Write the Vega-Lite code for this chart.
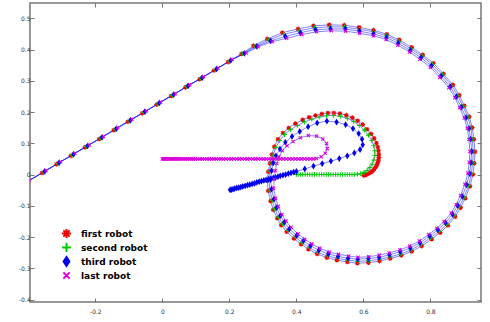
{"$schema":"https://vega.github.io/schema/vega-lite/v6.json","width":451,"height":299,"autosize":{"type":"none"},"padding":{"left":30,"top":3,"right":9,"bottom":20},
"config":{"view":{"stroke":"#777777","strokeWidth":1.5},"axis":{"grid":false,"domain":false,"tickColor":"#777777","tickWidth":1,"tickSize":-4,"labelFont":"DejaVu Sans","labelFontSize":6,"labelColor":"#333333","title":null}},
"data":{"values":[
{"r":1,"x":-0.41,"y":-0.027},{"r":1,"x":-0.359,"y":0.005},{"r":1,"x":-0.316,"y":0.033},{"r":1,"x":-0.273,"y":0.060},{"r":1,"x":-0.231,"y":0.087},{"r":1,"x":-0.188,"y":0.114},{"r":1,"x":-0.145,"y":0.142},{"r":1,"x":-0.103,"y":0.169},{"r":1,"x":-0.060,"y":0.196},{"r":1,"x":-0.017,"y":0.224},{"r":1,"x":0.026,"y":0.251},{"r":1,"x":0.069,"y":0.279},{"r":1,"x":0.111,"y":0.305},{"r":1,"x":0.154,"y":0.333},{"r":1,"x":0.196,"y":0.360},{"r":1,"x":0.236,"y":0.386},{"r":1,"x":0.272,"y":0.412},{"r":1,"x":0.313,"y":0.434},{"r":1,"x":0.358,"y":0.454},{"r":1,"x":0.405,"y":0.466},{"r":1,"x":0.451,"y":0.476},{"r":1,"x":0.498,"y":0.479},{"r":1,"x":0.543,"y":0.478},{"r":1,"x":0.587,"y":0.471},{"r":1,"x":0.630,"y":0.462},{"r":1,"x":0.670,"y":0.449},{"r":1,"x":0.707,"y":0.431},{"r":1,"x":0.744,"y":0.407},{"r":1,"x":0.777,"y":0.383},{"r":1,"x":0.809,"y":0.356},{"r":1,"x":0.839,"y":0.322},{"r":1,"x":0.867,"y":0.287},{"r":1,"x":0.886,"y":0.254},{"r":1,"x":0.901,"y":0.220},{"r":1,"x":0.916,"y":0.185},{"r":1,"x":0.925,"y":0.150},{"r":1,"x":0.930,"y":0.113},{"r":1,"x":0.933,"y":0.073},{"r":1,"x":0.931,"y":0.036},{"r":1,"x":0.927,"y":0.000},{"r":1,"x":0.918,"y":-0.038},{"r":1,"x":0.904,"y":-0.076},{"r":1,"x":0.890,"y":-0.106},{"r":1,"x":0.874,"y":-0.135},{"r":1,"x":0.852,"y":-0.163},{"r":1,"x":0.829,"y":-0.186},{"r":1,"x":0.804,"y":-0.207},{"r":1,"x":0.774,"y":-0.229},{"r":1,"x":0.744,"y":-0.246},{"r":1,"x":0.713,"y":-0.259},{"r":1,"x":0.680,"y":-0.269},{"r":1,"x":0.648,"y":-0.277},{"r":1,"x":0.615,"y":-0.282},{"r":1,"x":0.582,"y":-0.284},{"r":1,"x":0.552,"y":-0.280},{"r":1,"x":0.521,"y":-0.274},{"r":1,"x":0.491,"y":-0.266},{"r":1,"x":0.462,"y":-0.254},{"r":1,"x":0.436,"y":-0.239},{"r":1,"x":0.414,"y":-0.223},{"r":1,"x":0.393,"y":-0.205},{"r":1,"x":0.371,"y":-0.183},{"r":1,"x":0.355,"y":-0.162},{"r":1,"x":0.343,"y":-0.140},{"r":1,"x":0.331,"y":-0.113},{"r":1,"x":0.323,"y":-0.085},{"r":1,"x":0.316,"y":-0.052},{"r":1,"x":0.313,"y":-0.020},{"r":1,"x":0.316,"y":0.009},{"r":1,"x":0.321,"y":0.036},{"r":1,"x":0.327,"y":0.064},{"r":1,"x":0.334,"y":0.089},{"r":1,"x":0.345,"y":0.113},{"r":1,"x":0.360,"y":0.133},{"r":1,"x":0.377,"y":0.149},{"r":1,"x":0.397,"y":0.163},{"r":1,"x":0.419,"y":0.175},{"r":1,"x":0.438,"y":0.183},{"r":1,"x":0.457,"y":0.189},{"r":1,"x":0.476,"y":0.194},{"r":1,"x":0.494,"y":0.197},{"r":1,"x":0.512,"y":0.197},{"r":1,"x":0.530,"y":0.195},{"r":1,"x":0.549,"y":0.190},{"r":1,"x":0.567,"y":0.182},{"r":1,"x":0.583,"y":0.172},{"r":1,"x":0.598,"y":0.160},{"r":1,"x":0.611,"y":0.145},{"r":1,"x":0.623,"y":0.130},{"r":1,"x":0.632,"y":0.116},{"r":1,"x":0.639,"y":0.101},{"r":1,"x":0.643,"y":0.088},{"r":1,"x":0.645,"y":0.076},{"r":1,"x":0.646,"y":0.065},{"r":1,"x":0.646,"y":0.055},{"r":1,"x":0.645,"y":0.046},{"r":1,"x":0.643,"y":0.038},{"r":1,"x":0.640,"y":0.030},{"r":1,"x":0.636,"y":0.023},{"r":1,"x":0.632,"y":0.017},{"r":1,"x":0.627,"y":0.011},{"r":1,"x":0.622,"y":0.007},{"r":1,"x":0.616,"y":0.003},{"r":1,"x":0.610,"y":0.000},{"r":1,"x":0.605,"y":-0.002},{"r":1,"x":0.601,"y":-0.003},
{"r":2,"x":-0.406,"y":-0.025},{"r":2,"x":-0.355,"y":0.008},{"r":2,"x":-0.312,"y":0.035},{"r":2,"x":-0.269,"y":0.063},{"r":2,"x":-0.227,"y":0.090},{"r":2,"x":-0.184,"y":0.117},{"r":2,"x":-0.141,"y":0.145},{"r":2,"x":-0.099,"y":0.172},{"r":2,"x":-0.056,"y":0.199},{"r":2,"x":-0.013,"y":0.226},{"r":2,"x":0.030,"y":0.254},{"r":2,"x":0.073,"y":0.282},{"r":2,"x":0.115,"y":0.308},{"r":2,"x":0.158,"y":0.336},{"r":2,"x":0.200,"y":0.363},{"r":2,"x":0.240,"y":0.387},{"r":2,"x":0.277,"y":0.411},{"r":2,"x":0.318,"y":0.431},{"r":2,"x":0.362,"y":0.449},{"r":2,"x":0.408,"y":0.460},{"r":2,"x":0.454,"y":0.470},{"r":2,"x":0.500,"y":0.473},{"r":2,"x":0.544,"y":0.472},{"r":2,"x":0.588,"y":0.465},{"r":2,"x":0.630,"y":0.457},{"r":2,"x":0.669,"y":0.444},{"r":2,"x":0.706,"y":0.426},{"r":2,"x":0.742,"y":0.402},{"r":2,"x":0.775,"y":0.379},{"r":2,"x":0.806,"y":0.352},{"r":2,"x":0.836,"y":0.319},{"r":2,"x":0.863,"y":0.284},{"r":2,"x":0.882,"y":0.252},{"r":2,"x":0.897,"y":0.218},{"r":2,"x":0.912,"y":0.184},{"r":2,"x":0.921,"y":0.149},{"r":2,"x":0.925,"y":0.113},{"r":2,"x":0.928,"y":0.073},{"r":2,"x":0.926,"y":0.037},{"r":2,"x":0.922,"y":0.002},{"r":2,"x":0.914,"y":-0.036},{"r":2,"x":0.900,"y":-0.073},{"r":2,"x":0.886,"y":-0.103},{"r":2,"x":0.870,"y":-0.132},{"r":2,"x":0.849,"y":-0.159},{"r":2,"x":0.826,"y":-0.182},{"r":2,"x":0.801,"y":-0.202},{"r":2,"x":0.772,"y":-0.224},{"r":2,"x":0.742,"y":-0.241},{"r":2,"x":0.712,"y":-0.254},{"r":2,"x":0.679,"y":-0.264},{"r":2,"x":0.648,"y":-0.271},{"r":2,"x":0.615,"y":-0.276},{"r":2,"x":0.583,"y":-0.278},{"r":2,"x":0.553,"y":-0.274},{"r":2,"x":0.523,"y":-0.268},{"r":2,"x":0.493,"y":-0.261},{"r":2,"x":0.464,"y":-0.249},{"r":2,"x":0.439,"y":-0.234},{"r":2,"x":0.417,"y":-0.218},{"r":2,"x":0.397,"y":-0.200},{"r":2,"x":0.375,"y":-0.179},{"r":2,"x":0.359,"y":-0.158},{"r":2,"x":0.347,"y":-0.136},{"r":2,"x":0.335,"y":-0.110},{"r":2,"x":0.328,"y":-0.082},{"r":2,"x":0.321,"y":-0.050},{"r":2,"x":0.318,"y":-0.018},{"r":2,"x":0.320,"y":0.010},{"r":2,"x":0.325,"y":0.036},{"r":2,"x":0.331,"y":0.062},{"r":2,"x":0.339,"y":0.087},{"r":2,"x":0.350,"y":0.109},{"r":2,"x":0.365,"y":0.128},{"r":2,"x":0.383,"y":0.144},{"r":2,"x":0.403,"y":0.157},{"r":2,"x":0.424,"y":0.168},{"r":2,"x":0.446,"y":0.177},{"r":2,"x":0.468,"y":0.184},{"r":2,"x":0.490,"y":0.188},{"r":2,"x":0.511,"y":0.189},{"r":2,"x":0.532,"y":0.186},{"r":2,"x":0.552,"y":0.180},{"r":2,"x":0.571,"y":0.170},{"r":2,"x":0.588,"y":0.157},{"r":2,"x":0.603,"y":0.142},{"r":2,"x":0.615,"y":0.126},{"r":2,"x":0.625,"y":0.109},{"r":2,"x":0.631,"y":0.092},{"r":2,"x":0.634,"y":0.076},{"r":2,"x":0.634,"y":0.061},{"r":2,"x":0.631,"y":0.046},{"r":2,"x":0.626,"y":0.033},{"r":2,"x":0.619,"y":0.022},{"r":2,"x":0.611,"y":0.013},{"r":2,"x":0.602,"y":0.007},{"r":2,"x":0.592,"y":0.003},{"r":2,"x":0.582,"y":0.001},{"r":2,"x":0.573,"y":0.000},{"r":2,"x":0.566,"y":0.000},{"r":2,"x":0.559,"y":0.000},{"r":2,"x":0.552,"y":0.000},{"r":2,"x":0.545,"y":0.000},{"r":2,"x":0.538,"y":0.000},{"r":2,"x":0.531,"y":0.000},{"r":2,"x":0.524,"y":0.000},{"r":2,"x":0.517,"y":0.000},{"r":2,"x":0.510,"y":0.000},{"r":2,"x":0.503,"y":0.000},{"r":2,"x":0.496,"y":0.000},{"r":2,"x":0.489,"y":0.000},{"r":2,"x":0.482,"y":0.000},{"r":2,"x":0.475,"y":0.000},{"r":2,"x":0.468,"y":0.000},{"r":2,"x":0.461,"y":0.000},{"r":2,"x":0.454,"y":0.000},{"r":2,"x":0.447,"y":0.000},{"r":2,"x":0.440,"y":0.000},{"r":2,"x":0.433,"y":0.000},{"r":2,"x":0.426,"y":0.000},{"r":2,"x":0.419,"y":0.000},{"r":2,"x":0.412,"y":0.000},{"r":2,"x":0.405,"y":0.000},{"r":2,"x":0.400,"y":0.000},
{"r":3,"x":-0.402,"y":-0.022},{"r":3,"x":-0.351,"y":0.010},{"r":3,"x":-0.308,"y":0.038},{"r":3,"x":-0.265,"y":0.065},{"r":3,"x":-0.223,"y":0.092},{"r":3,"x":-0.180,"y":0.119},{"r":3,"x":-0.137,"y":0.147},{"r":3,"x":-0.095,"y":0.174},{"r":3,"x":-0.052,"y":0.201},{"r":3,"x":-0.009,"y":0.229},{"r":3,"x":0.034,"y":0.256},{"r":3,"x":0.077,"y":0.284},{"r":3,"x":0.119,"y":0.310},{"r":3,"x":0.162,"y":0.338},{"r":3,"x":0.204,"y":0.365},{"r":3,"x":0.245,"y":0.388},{"r":3,"x":0.282,"y":0.410},{"r":3,"x":0.323,"y":0.428},{"r":3,"x":0.367,"y":0.442},{"r":3,"x":0.412,"y":0.454},{"r":3,"x":0.457,"y":0.464},{"r":3,"x":0.502,"y":0.466},{"r":3,"x":0.546,"y":0.466},{"r":3,"x":0.588,"y":0.459},{"r":3,"x":0.630,"y":0.450},{"r":3,"x":0.669,"y":0.438},{"r":3,"x":0.704,"y":0.420},{"r":3,"x":0.740,"y":0.397},{"r":3,"x":0.772,"y":0.374},{"r":3,"x":0.803,"y":0.348},{"r":3,"x":0.832,"y":0.315},{"r":3,"x":0.859,"y":0.281},{"r":3,"x":0.877,"y":0.249},{"r":3,"x":0.892,"y":0.216},{"r":3,"x":0.906,"y":0.182},{"r":3,"x":0.915,"y":0.148},{"r":3,"x":0.920,"y":0.113},{"r":3,"x":0.923,"y":0.074},{"r":3,"x":0.921,"y":0.038},{"r":3,"x":0.917,"y":0.003},{"r":3,"x":0.908,"y":-0.033},{"r":3,"x":0.895,"y":-0.070},{"r":3,"x":0.881,"y":-0.099},{"r":3,"x":0.866,"y":-0.127},{"r":3,"x":0.845,"y":-0.154},{"r":3,"x":0.822,"y":-0.177},{"r":3,"x":0.798,"y":-0.197},{"r":3,"x":0.769,"y":-0.218},{"r":3,"x":0.740,"y":-0.235},{"r":3,"x":0.710,"y":-0.247},{"r":3,"x":0.678,"y":-0.257},{"r":3,"x":0.647,"y":-0.265},{"r":3,"x":0.615,"y":-0.269},{"r":3,"x":0.583,"y":-0.271},{"r":3,"x":0.554,"y":-0.268},{"r":3,"x":0.524,"y":-0.262},{"r":3,"x":0.495,"y":-0.254},{"r":3,"x":0.467,"y":-0.242},{"r":3,"x":0.442,"y":-0.228},{"r":3,"x":0.421,"y":-0.212},{"r":3,"x":0.401,"y":-0.195},{"r":3,"x":0.379,"y":-0.174},{"r":3,"x":0.364,"y":-0.153},{"r":3,"x":0.352,"y":-0.132},{"r":3,"x":0.341,"y":-0.106},{"r":3,"x":0.333,"y":-0.079},{"r":3,"x":0.326,"y":-0.047},{"r":3,"x":0.323,"y":-0.016},{"r":3,"x":0.326,"y":0.012},{"r":3,"x":0.331,"y":0.037},{"r":3,"x":0.339,"y":0.060},{"r":3,"x":0.351,"y":0.082},{"r":3,"x":0.367,"y":0.103},{"r":3,"x":0.387,"y":0.122},{"r":3,"x":0.410,"y":0.138},{"r":3,"x":0.435,"y":0.153},{"r":3,"x":0.462,"y":0.165},{"r":3,"x":0.491,"y":0.171},{"r":3,"x":0.520,"y":0.168},{"r":3,"x":0.547,"y":0.160},{"r":3,"x":0.569,"y":0.147},{"r":3,"x":0.586,"y":0.131},{"r":3,"x":0.596,"y":0.113},{"r":3,"x":0.598,"y":0.095},{"r":3,"x":0.590,"y":0.080},{"r":3,"x":0.573,"y":0.069},{"r":3,"x":0.552,"y":0.060},{"r":3,"x":0.528,"y":0.051},{"r":3,"x":0.503,"y":0.043},{"r":3,"x":0.477,"y":0.035},{"r":3,"x":0.451,"y":0.027},{"r":3,"x":0.425,"y":0.018},{"r":3,"x":0.400,"y":0.010},{"r":3,"x":0.392,"y":0.008},{"r":3,"x":0.384,"y":0.005},{"r":3,"x":0.376,"y":0.003},{"r":3,"x":0.368,"y":0.000},{"r":3,"x":0.360,"y":-0.002},{"r":3,"x":0.352,"y":-0.004},{"r":3,"x":0.345,"y":-0.007},{"r":3,"x":0.338,"y":-0.009},{"r":3,"x":0.331,"y":-0.011},{"r":3,"x":0.324,"y":-0.013},{"r":3,"x":0.317,"y":-0.015},{"r":3,"x":0.310,"y":-0.017},{"r":3,"x":0.303,"y":-0.019},{"r":3,"x":0.296,"y":-0.021},{"r":3,"x":0.289,"y":-0.023},{"r":3,"x":0.282,"y":-0.025},{"r":3,"x":0.275,"y":-0.028},{"r":3,"x":0.268,"y":-0.030},{"r":3,"x":0.261,"y":-0.032},{"r":3,"x":0.254,"y":-0.034},{"r":3,"x":0.247,"y":-0.036},{"r":3,"x":0.240,"y":-0.038},{"r":3,"x":0.234,"y":-0.040},{"r":3,"x":0.228,"y":-0.042},{"r":3,"x":0.222,"y":-0.043},{"r":3,"x":0.216,"y":-0.045},{"r":3,"x":0.211,"y":-0.047},{"r":3,"x":0.206,"y":-0.048},{"r":3,"x":0.202,"y":-0.049},
{"r":4,"x":-0.398,"y":-0.019},{"r":4,"x":-0.347,"y":0.013},{"r":4,"x":-0.304,"y":0.041},{"r":4,"x":-0.261,"y":0.068},{"r":4,"x":-0.219,"y":0.095},{"r":4,"x":-0.176,"y":0.122},{"r":4,"x":-0.133,"y":0.150},{"r":4,"x":-0.091,"y":0.177},{"r":4,"x":-0.048,"y":0.204},{"r":4,"x":-0.005,"y":0.232},{"r":4,"x":0.038,"y":0.259},{"r":4,"x":0.081,"y":0.287},{"r":4,"x":0.123,"y":0.313},{"r":4,"x":0.166,"y":0.341},{"r":4,"x":0.208,"y":0.368},{"r":4,"x":0.250,"y":0.389},{"r":4,"x":0.286,"y":0.409},{"r":4,"x":0.328,"y":0.425},{"r":4,"x":0.371,"y":0.436},{"r":4,"x":0.416,"y":0.448},{"r":4,"x":0.460,"y":0.457},{"r":4,"x":0.504,"y":0.460},{"r":4,"x":0.547,"y":0.459},{"r":4,"x":0.589,"y":0.452},{"r":4,"x":0.630,"y":0.444},{"r":4,"x":0.668,"y":0.432},{"r":4,"x":0.703,"y":0.414},{"r":4,"x":0.738,"y":0.392},{"r":4,"x":0.769,"y":0.369},{"r":4,"x":0.800,"y":0.343},{"r":4,"x":0.828,"y":0.311},{"r":4,"x":0.855,"y":0.278},{"r":4,"x":0.873,"y":0.246},{"r":4,"x":0.887,"y":0.214},{"r":4,"x":0.901,"y":0.181},{"r":4,"x":0.910,"y":0.148},{"r":4,"x":0.915,"y":0.112},{"r":4,"x":0.918,"y":0.074},{"r":4,"x":0.916,"y":0.039},{"r":4,"x":0.912,"y":0.005},{"r":4,"x":0.903,"y":-0.031},{"r":4,"x":0.890,"y":-0.067},{"r":4,"x":0.877,"y":-0.096},{"r":4,"x":0.862,"y":-0.123},{"r":4,"x":0.841,"y":-0.150},{"r":4,"x":0.819,"y":-0.172},{"r":4,"x":0.795,"y":-0.192},{"r":4,"x":0.767,"y":-0.213},{"r":4,"x":0.738,"y":-0.229},{"r":4,"x":0.709,"y":-0.241},{"r":4,"x":0.677,"y":-0.251},{"r":4,"x":0.647,"y":-0.258},{"r":4,"x":0.616,"y":-0.263},{"r":4,"x":0.584,"y":-0.265},{"r":4,"x":0.556,"y":-0.261},{"r":4,"x":0.526,"y":-0.255},{"r":4,"x":0.498,"y":-0.248},{"r":4,"x":0.470,"y":-0.236},{"r":4,"x":0.446,"y":-0.222},{"r":4,"x":0.425,"y":-0.207},{"r":4,"x":0.405,"y":-0.190},{"r":4,"x":0.384,"y":-0.169},{"r":4,"x":0.369,"y":-0.149},{"r":4,"x":0.357,"y":-0.128},{"r":4,"x":0.346,"y":-0.102},{"r":4,"x":0.338,"y":-0.076},{"r":4,"x":0.332,"y":-0.044},{"r":4,"x":0.334,"y":-0.015},{"r":4,"x":0.337,"y":0.012},{"r":4,"x":0.341,"y":0.035},{"r":4,"x":0.348,"y":0.057},{"r":4,"x":0.358,"y":0.076},{"r":4,"x":0.372,"y":0.092},{"r":4,"x":0.390,"y":0.106},{"r":4,"x":0.412,"y":0.118},{"r":4,"x":0.436,"y":0.125},{"r":4,"x":0.460,"y":0.123},{"r":4,"x":0.479,"y":0.114},{"r":4,"x":0.490,"y":0.099},{"r":4,"x":0.492,"y":0.083},{"r":4,"x":0.486,"y":0.068},{"r":4,"x":0.474,"y":0.057},{"r":4,"x":0.460,"y":0.051},{"r":4,"x":0.451,"y":0.050},{"r":4,"x":0.442,"y":0.050},{"r":4,"x":0.433,"y":0.050},{"r":4,"x":0.424,"y":0.050},{"r":4,"x":0.415,"y":0.050},{"r":4,"x":0.406,"y":0.050},{"r":4,"x":0.397,"y":0.050},{"r":4,"x":0.388,"y":0.050},{"r":4,"x":0.379,"y":0.050},{"r":4,"x":0.370,"y":0.050},{"r":4,"x":0.361,"y":0.050},{"r":4,"x":0.352,"y":0.050},{"r":4,"x":0.343,"y":0.050},{"r":4,"x":0.334,"y":0.050},{"r":4,"x":0.326,"y":0.050},{"r":4,"x":0.318,"y":0.050},{"r":4,"x":0.310,"y":0.050},{"r":4,"x":0.302,"y":0.050},{"r":4,"x":0.294,"y":0.050},{"r":4,"x":0.286,"y":0.050},{"r":4,"x":0.278,"y":0.050},{"r":4,"x":0.270,"y":0.050},{"r":4,"x":0.262,"y":0.050},{"r":4,"x":0.254,"y":0.050},{"r":4,"x":0.246,"y":0.050},{"r":4,"x":0.238,"y":0.050},{"r":4,"x":0.230,"y":0.050},{"r":4,"x":0.222,"y":0.050},{"r":4,"x":0.214,"y":0.050},{"r":4,"x":0.206,"y":0.050},{"r":4,"x":0.198,"y":0.050},{"r":4,"x":0.190,"y":0.050},{"r":4,"x":0.182,"y":0.050},{"r":4,"x":0.175,"y":0.050},{"r":4,"x":0.168,"y":0.050},{"r":4,"x":0.161,"y":0.050},{"r":4,"x":0.154,"y":0.050},{"r":4,"x":0.147,"y":0.050},{"r":4,"x":0.140,"y":0.050},{"r":4,"x":0.133,"y":0.050},{"r":4,"x":0.126,"y":0.050},{"r":4,"x":0.119,"y":0.050},{"r":4,"x":0.112,"y":0.050},{"r":4,"x":0.105,"y":0.050},{"r":4,"x":0.098,"y":0.050},{"r":4,"x":0.092,"y":0.050},{"r":4,"x":0.086,"y":0.050},{"r":4,"x":0.080,"y":0.050},{"r":4,"x":0.074,"y":0.050},{"r":4,"x":0.068,"y":0.050},{"r":4,"x":0.062,"y":0.050},{"r":4,"x":0.056,"y":0.050},{"r":4,"x":0.050,"y":0.050},{"r":4,"x":0.045,"y":0.050},{"r":4,"x":0.040,"y":0.050},{"r":4,"x":0.035,"y":0.050},{"r":4,"x":0.030,"y":0.050},{"r":4,"x":0.025,"y":0.050},{"r":4,"x":0.020,"y":0.050},{"r":4,"x":0.016,"y":0.050},{"r":4,"x":0.012,"y":0.050},{"r":4,"x":0.008,"y":0.050},{"r":4,"x":0.004,"y":0.050},{"r":4,"x":0.000,"y":0.050}
]},
"resolve":{"axis":{"x":"independent","y":"independent"}},
"layer":[
{"mark":{"type":"point","opacity":0},
 "encoding":{
  "x":{"field":"x","type":"quantitative","scale":{"domain":[-0.395,0.951],"nice":false,"zero":false},"axis":{"orient":"top","values":[-0.2,0,0.2,0.4,0.6,0.8],"labels":false,"title":null}},
  "y":{"field":"y","type":"quantitative","scale":{"domain":[-0.408,0.549],"nice":false,"zero":false},"axis":{"orient":"right","values":[-0.4,-0.3,-0.2,-0.1,0,0.1,0.2,0.3,0.4,0.5],"labels":false,"title":null}}}},
{"encoding":{
  "x":{"field":"x","type":"quantitative","scale":{"domain":[-0.395,0.951],"nice":false,"zero":false},"axis":{"orient":"bottom","values":[-0.2,0,0.2,0.4,0.6,0.8],"format":"~g","labelExpr":"replace(datum.label,'\u2212','-')","labelPadding":10,"title":null}},
  "y":{"field":"y","type":"quantitative","scale":{"domain":[-0.408,0.549],"nice":false,"zero":false},"axis":{"orient":"left","values":[-0.4,-0.3,-0.2,-0.1,0,0.1,0.2,0.3,0.4,0.5],"format":"~g","labelExpr":"replace(datum.label,'\u2212','-')","labelPadding":4,"title":null}}},
 "layer":[
  {"mark":{"type":"line","clip":true,"color":"#1a1aff","strokeWidth":0.6,"opacity":0.9},"encoding":{"detail":{"field":"r","type":"nominal"},"order":{"value":null}}},
  {"mark":{"type":"point","clip":true,"filled":false,"size":22,"strokeWidth":1.1,"opacity":1},
   "encoding":{
    "color":{"field":"r","type":"nominal","scale":{"domain":[1,2,3,4],"range":["#ee0000","#00cc00","#0000ee","#dd00dd"]},
      "legend":{"orient":"none","legendX":31,"legendY":225,"title":null,"padding":0,"labelFont":"DejaVu Sans","labelFontWeight":"bold","labelFontSize":9,"labelColor":"#000000","symbolSize":80,"symbolStrokeWidth":2,"rowPadding":-10,"labelOffset":9,
        "labelExpr":"datum.value == 1 ? 'first robot' : datum.value == 2 ? 'second robot' : datum.value == 3 ? 'third robot' : 'last robot'"}},
    "shape":{"field":"r","type":"nominal","scale":{"domain":[1,2,3,4],"range":["M-1,0L1,0M0,-1L0,1M-0.7,-0.7L0.7,0.7M-0.7,0.7L0.7,-0.7","M-1,0L1,0M0,-1L0,1","M0,-1L0.65,0L0,1L-0.65,0Z M0,-0.7L0,0.7 M-0.35,0L0.35,0","M-0.7,-0.7L0.7,0.7M-0.7,0.7L0.7,-0.7"]},
      "legend":{"orient":"none","legendX":31,"legendY":225,"title":null,"padding":0,"labelFont":"DejaVu Sans","labelFontWeight":"bold","labelFontSize":9,"labelColor":"#000000","symbolSize":80,"symbolStrokeWidth":2,"rowPadding":-10,"labelOffset":9,
        "labelExpr":"datum.value == 1 ? 'first robot' : datum.value == 2 ? 'second robot' : datum.value == 3 ? 'third robot' : 'last robot'"}}}}
 ]}
]}
